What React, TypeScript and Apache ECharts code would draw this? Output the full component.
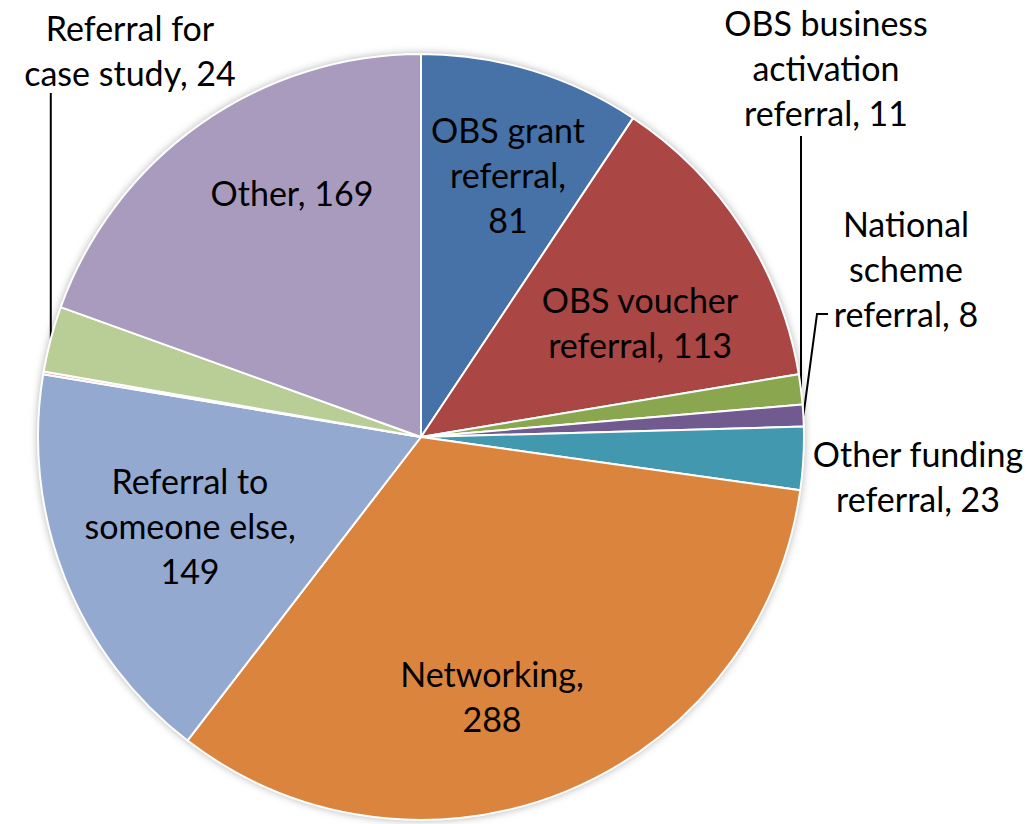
import React, { useEffect, useRef } from "react";
import * as echarts from "echarts";

// ---- data (clockwise from 12 o'clock) ----
const categories = [
  "OBS grant referral",
  "OBS voucher referral",
  "OBS business activation referral",
  "National scheme referral",
  "Other funding referral",
  "Networking",
  "Referral to someone else",
  "Unlabelled",
  "Referral for case study",
  "Other",
];
const values = [81, 113, 11, 8, 23, 288, 149, 1, 24, 169];

// ---- styles ----
const sliceColors: Record<string, string> = {
  "OBS grant referral": "#4672A8",
  "OBS voucher referral": "#AA4644",
  "OBS business activation referral": "#8AA64F",
  "National scheme referral": "#715A90",
  "Other funding referral": "#4198AF",
  "Networking": "#DB843D",
  "Referral to someone else": "#93A9D0",
  "Unlabelled": "#D99694",
  "Referral for case study": "#B9CD96",
  "Other": "#A99BBD",
};
const labelTemplates: Record<string, string> = {
  "OBS grant referral": "OBS grant\nreferral,\n{v}",
  "OBS voucher referral": "OBS voucher\nreferral, {v}",
  "OBS business activation referral": "OBS business\nactivation\nreferral, {v}",
  "National scheme referral": "National\nscheme\nreferral, {v}",
  "Other funding referral": "Other funding\nreferral, {v}",
  "Networking": "Networking,\n{v}",
  "Referral to someone else": "Referral to\nsomeone else,\n{v}",
  "Referral for case study": "Referral for\ncase study, {v}",
  "Other": "Other, {v}",
};
// label block centres (px)
const labelPos: Record<string, [number, number]> = {
  "OBS grant referral": [508, 174],
  "OBS voucher referral": [640, 322],
  "OBS business activation referral": [826, 67],
  "National scheme referral": [906, 268],
  "Other funding referral": [918, 476],
  "Networking": [492, 696],
  "Referral to someone else": [190, 525],
  "Referral for case study": [130, 50],
  "Other": [292, 192],
};
// leader line points after the slice edge; null x = same x as edge (vertical)
const leaders: Record<string, Array<[number | null, number]>> = {
  "OBS business activation referral": [[null, 136]],
  "National scheme referral": [[817, 314], [828, 314]],
  "Referral for case study": [[null, 93]],
};

const CX = 421;
const CY = 437;
const R = 383;
const FONT = "Lato, 'Noto Sans', sans-serif";

export default function App() {
  const ref = useRef<HTMLDivElement>(null);
  useEffect(() => {
    if (!ref.current) return;
    const chart = echarts.init(ref.current, undefined, { renderer: "svg" });
    const total = values.reduce((a, b) => a + b, 0);
    const midAngles: number[] = [];
    let cum = 0;
    values.forEach((v) => {
      midAngles.push(((cum + v / 2) / total) * 2 * Math.PI);
      cum += v;
    });

    const data = categories.map((name, i) => {
      const hasLabel = !!labelTemplates[name];
      const hasLeader = !!leaders[name];
      return {
        name,
        value: values[i],
        itemStyle: { color: sliceColors[name] },
        label: { show: hasLabel },
        labelLine: { show: hasLeader },
      };
    });

    chart.setOption({
      animation: false,
      backgroundColor: "#ffffff",
      series: [
        {
          type: "pie",
          silent: true,
          center: [CX, CY],
          radius: R,
          label: { show: false },
          labelLine: { show: false },
          itemStyle: {
            color: "#ffffff",
            shadowBlur: 8,
            shadowColor: "rgba(0,0,0,0.35)",
          },
          data: [{ value: 1, name: "bg" }],
        },
        {
          type: "pie",
          silent: true,
          center: [CX, CY],
          radius: R,
          startAngle: 90,
          clockwise: true,
          avoidLabelOverlap: false,
          itemStyle: { borderColor: "#ffffff", borderWidth: 2 },
          label: {
            position: "outside",
            color: "#000000",
            fontFamily: FONT,
            fontSize: 34,
            lineHeight: 45,
            align: "center",
            formatter: (p: any) =>
              (labelTemplates[p.name] || "").replace("{v}", String(p.value)),
          },
          labelLine: {
            show: false,
            lineStyle: { color: "#000000", width: 2 },
          },
          labelLayout: (params: any) => {
            if (params.seriesIndex !== 1) return {};
            const name = categories[params.dataIndex];
            const pos = labelPos[name];
            if (!pos) return {};
            const out: any = {
              x: pos[0],
              y: pos[1],
              align: "center",
              verticalAlign: "middle",
            };
            const lead = leaders[name];
            if (lead) {
              const a = midAngles[params.dataIndex];
              const ex = CX + R * Math.sin(a);
              const ey = CY - R * Math.cos(a);
              const pts: number[][] = [[ex, ey]];
              lead.forEach(([x, y]) => pts.push([x === null ? ex : x, y]));
              if (pts.length < 3) pts.push(pts[pts.length - 1].slice());
              out.labelLinePoints = pts;
            }
            return out;
          },
          data,
        },
      ],
    });
    return () => chart.dispose();
  }, []);
  return (
    <div
      ref={ref}
      style={{ position: "fixed", left: 0, top: 0, width: 1029, height: 824 }}
    />
  );
}
